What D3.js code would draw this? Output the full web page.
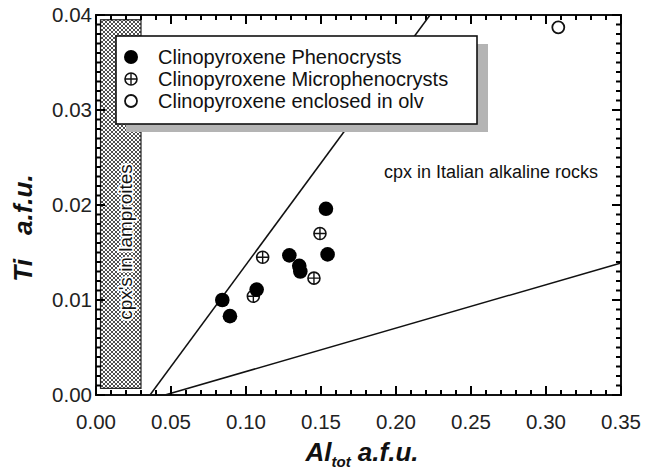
<!DOCTYPE html>
<html>
<head>
<meta charset="utf-8">
<script src="https://cdn.jsdelivr.net/npm/d3@7"></script>
<style>
  html, body { margin: 0; padding: 0; background: #fff; }
  svg { display: block; font-family: Arial, "Liberation Sans", Helvetica, sans-serif; }
</style>
</head>
<body>
<svg id="chart" width="648" height="472"></svg>
<script>
// Clinopyroxene compositions: Al_tot vs Ti (atoms per formula unit)
const phenoAl = [0.1533, 0.1544, 0.1289, 0.1355, 0.1362, 0.1071, 0.0842, 0.0893];
const phenoTi = [0.0196, 0.0148, 0.0147, 0.0136, 0.0130, 0.0111, 0.0100, 0.0083];
const microAl = [0.1493, 0.1453, 0.1111, 0.1049];
const microTi = [0.0170, 0.0123, 0.0145, 0.0104];
const olvAl = [0.3082];
const olvTi = [0.0387];

// Field boundaries
const steepLineAl = [0.036, 0.2227];
const steepLineTi = [0.0, 0.04];
const lowLineAl = [0.046, 0.35];
const lowLineTi = [0.0, 0.0139];
const lamproiteAl = [0.003, 0.030];
const lamproiteTi = [0.0007, 0.0395];

const xTicks = [0, 0.05, 0.10, 0.15, 0.20, 0.25, 0.30, 0.35];
const yTicks = [0, 0.01, 0.02, 0.03, 0.04];
const legendLabels = ["Clinopyroxene Phenocrysts", "Clinopyroxene Microphenocrysts", "Clinopyroxene enclosed in olv"];

const W = 648, H = 472;
const m = { left: 96, right: 27, top: 15, bottom: 77 };
const svg = d3.select("#chart");

const x = d3.scaleLinear().domain([0, 0.35]).range([m.left, W - m.right]);
const y = d3.scaleLinear().domain([0, 0.04]).range([H - m.bottom, m.top]);

// crosshatch fill for the lamproite field
const defs = svg.append("defs");
const pat = defs.append("pattern").attr("id", "hatch")
  .attr("patternUnits", "userSpaceOnUse").attr("width", 4).attr("height", 4);
pat.append("rect").attr("width", 4).attr("height", 4).attr("fill", "#fff");
pat.append("path").attr("d", "M0,0L4,4M4,0L0,4").attr("stroke", "#505050").attr("stroke-width", 1);

svg.append("rect")
  .attr("x", x(lamproiteAl[0])).attr("y", y(lamproiteTi[1]))
  .attr("width", x(lamproiteAl[1]) - x(lamproiteAl[0]))
  .attr("height", y(lamproiteTi[0]) - y(lamproiteTi[1]))
  .attr("fill", "url(#hatch)").attr("stroke", "#222").attr("stroke-width", 1.2);

svg.append("text")
  .attr("transform", `translate(${(x(lamproiteAl[0]) + x(lamproiteAl[1])) / 2 + 6},242) rotate(-90)`)
  .attr("text-anchor", "middle").attr("dominant-baseline", "middle")
  .attr("font-size", 19).attr("fill", "#111")
  .style("paint-order", "stroke").attr("stroke", "#fff").attr("stroke-width", 3.5)
  .attr("stroke-linejoin", "round")
  .text("cpx's in lamproites");

// field lines
const line = d3.line().x(d => x(d[0])).y(d => y(d[1]));
svg.append("path").attr("d", line(d3.zip(steepLineAl, steepLineTi)))
  .attr("stroke", "#111").attr("stroke-width", 1.5).attr("fill", "none");
svg.append("path").attr("d", line(d3.zip(lowLineAl, lowLineTi)))
  .attr("stroke", "#111").attr("stroke-width", 1.5).attr("fill", "none");

svg.append("text").attr("x", 384).attr("y", 178).attr("font-size", 18).attr("fill", "#111")
  .text("cpx in Italian alkaline rocks");

svg.append("rect").attr("x", x(0)).attr("y", y(0.04))
  .attr("width", x(0.35) - x(0)).attr("height", y(0) - y(0.04))
  .attr("fill", "none").attr("stroke", "#111").attr("stroke-width", 2);

// tick labels
svg.append("g").selectAll("text").data(xTicks).join("text")
  .attr("x", d => x(d)).attr("y", y(0) + 34).attr("text-anchor", "middle")
  .attr("font-size", 20.5).attr("fill", "#222").text(d3.format(".2f"));
svg.append("g").selectAll("text").data(yTicks).join("text")
  .attr("x", x(0) - 4).attr("y", d => y(d) + 7).attr("text-anchor", "end")
  .attr("font-size", 20.5).attr("fill", "#222").text(d3.format(".2f"));

// axis titles
const xt = svg.append("text").attr("x", 362).attr("y", 461).attr("text-anchor", "middle")
  .attr("font-size", 26).attr("font-weight", "bold").attr("font-style", "italic").attr("fill", "#111");
xt.append("tspan").text("Al");
xt.append("tspan").attr("font-size", 15).attr("dy", 6).text("tot");
xt.append("tspan").attr("dy", -6).text(" a.f.u.");

const yt = svg.append("text").attr("transform", "translate(32,228) rotate(-90)").attr("text-anchor", "middle")
  .attr("font-size", 26).attr("font-weight", "bold").attr("font-style", "italic").attr("fill", "#111");
yt.append("tspan").text("Ti");
yt.append("tspan").attr("dx", 24).text("a.f.u.");

// markers
function crossed(g, cx, cy, r) {
  g.append("circle").attr("cx", cx).attr("cy", cy).attr("r", r)
    .attr("fill", "#fff").attr("stroke", "#111").attr("stroke-width", 1.6);
  g.append("path").attr("d", `M${cx - r},${cy}H${cx + r}M${cx},${cy - r}V${cy + r}`)
    .attr("stroke", "#111").attr("stroke-width", 1.4);
}
const gp = svg.append("g");
d3.zip(microAl, microTi).forEach(d => crossed(gp, x(d[0]), y(d[1]), 6));
gp.selectAll(".ph").data(d3.zip(phenoAl, phenoTi)).join("circle").attr("class", "ph")
  .attr("cx", d => x(d[0])).attr("cy", d => y(d[1])).attr("r", 7.3).attr("fill", "#000");
gp.selectAll(".ol").data(d3.zip(olvAl, olvTi)).join("circle").attr("class", "ol")
  .attr("cx", d => x(d[0])).attr("cy", d => y(d[1])).attr("r", 6)
  .attr("fill", "#fff").attr("stroke", "#111").attr("stroke-width", 1.8);

// legend with drop shadow
const lg = svg.append("g");
lg.append("rect").attr("x", 126).attr("y", 44).attr("width", 362).attr("height", 88).attr("fill", "#b4b4b4");
lg.append("rect").attr("x", 116).attr("y", 36).attr("width", 361).attr("height", 88)
  .attr("fill", "#fff").attr("stroke", "#111").attr("stroke-width", 1.6);
const rowY = [57, 79, 101];
lg.append("circle").attr("cx", 131).attr("cy", rowY[0]).attr("r", 7).attr("fill", "#000");
crossed(lg, 131, rowY[1], 6);
lg.append("circle").attr("cx", 131).attr("cy", rowY[2]).attr("r", 6)
  .attr("fill", "#fff").attr("stroke", "#111").attr("stroke-width", 1.8);
lg.selectAll(".lt").data(legendLabels).join("text").attr("class", "lt")
  .attr("x", 158).attr("y", (d, i) => rowY[i] + 7).attr("font-size", 20).attr("fill", "#111")
  .text(d => d);

// inward tick marks on all four sides (minor + major), drawn as thin filled bars
const xMinor = d3.range(0, 36).map(i => ({ v: i / 100, major: i % 5 === 0 }));
const yMinor = d3.range(0, 41).map(i => ({ v: i / 1000, major: i % 10 === 0 }));
const tickG = svg.append("g").attr("fill", "#000");
tickG.selectAll(".tb").data(xMinor).join("rect").attr("class", "tb")
  .attr("x", d => x(d.v) - 1).attr("width", 2)
  .attr("y", d => y(0) - (d.major ? 9 : 5)).attr("height", d => (d.major ? 9 : 5));
tickG.selectAll(".tt").data(xMinor).join("rect").attr("class", "tt")
  .attr("x", d => x(d.v) - 1).attr("width", 2)
  .attr("y", y(0.04)).attr("height", d => (d.major ? 9 : 5));
tickG.selectAll(".tl").data(yMinor).join("rect").attr("class", "tl")
  .attr("y", d => y(d.v) - 1).attr("height", 2)
  .attr("x", x(0)).attr("width", d => (d.major ? 9 : 5));
tickG.selectAll(".tr").data(yMinor).join("rect").attr("class", "tr")
  .attr("y", d => y(d.v) - 1).attr("height", 2)
  .attr("x", d => x(0.35) - (d.major ? 9 : 5)).attr("width", d => (d.major ? 9 : 5));
</script>
</body>
</html>
